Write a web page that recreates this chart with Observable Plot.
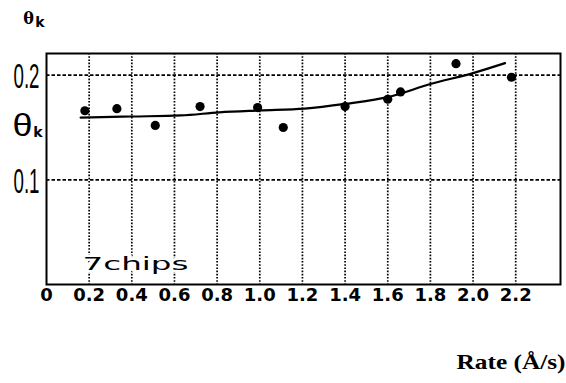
<!DOCTYPE html>
<html>
<head>
<meta charset="utf-8">
<script src="https://cdn.jsdelivr.net/npm/d3@7"></script>
<script src="https://cdn.jsdelivr.net/npm/@observablehq/plot@0.6"></script>
<style>
  html, body { margin: 0; padding: 0; background: #fff; }
  #chart svg { display: block; background: #fff; }
</style>
</head>
<body>
<div id="chart"></div>
<script>
// Measured θk against deposition rate
const rate  = [0.18, 0.33, 0.51, 0.72, 0.99, 1.11, 1.40, 1.60, 1.66, 1.92, 2.18];
const theta = [0.166, 0.168, 0.152, 0.170, 0.169, 0.150, 0.170, 0.177, 0.184, 0.211, 0.198];

// Smooth trend drawn through the measurements
const fitRate  = [0.16, 0.40, 0.63, 0.81, 1.00, 1.21, 1.40, 1.60, 1.80, 2.00, 2.15];
const fitTheta = [0.1595, 0.1605, 0.1615, 0.1645, 0.1663, 0.1680, 0.1725, 0.1790, 0.1915, 0.2020, 0.2115];

// Axis ticks
const xTicks = [0, 0.2, 0.4, 0.6, 0.8, 1.0, 1.2, 1.4, 1.6, 1.8, 2.0, 2.2];
const xGrid  = [0.2, 0.4, 0.6, 0.8, 1.0, 1.2, 1.4, 1.6, 1.8, 2.0, 2.2];
const yTicks = [0.1, 0.2];

const points = rate.map((r, i) => ({rate: r, theta: theta[i]}));
const fit = fitRate.map((r, i) => ({rate: r, theta: fitTheta[i]}));

const chart = Plot.plot({
  width: 566,
  height: 383,
  marginLeft: 46,
  marginRight: 6,
  marginTop: 53,
  marginBottom: 99,
  x: {domain: [0, 2.41], axis: null},
  y: {domain: [0, 0.2207], axis: null},
  style: {background: "#fff", color: "#000"},
  marks: [
    Plot.gridX(xGrid, {stroke: "#000", strokeOpacity: 1, strokeWidth: 1.7, strokeDasharray: "1.6,1.6"}),
    Plot.gridY(yTicks, {stroke: "#000", strokeOpacity: 1, strokeWidth: 1.7, strokeDasharray: "3.5,2"}),
    Plot.text(["7chips"], {
      frameAnchor: "bottom-left", dx: 36, dy: -15,
      textAnchor: "start", lineAnchor: "bottom",
      fontFamily: "DejaVu Sans", fontSize: 18, fill: "#000",
      stroke: "#fff", strokeWidth: 5, paintOrder: "stroke",
      ariaDescription: "chips-label"
    }),
    Plot.frame({stroke: "#000", strokeWidth: 2}),
    Plot.line(fit, {x: "rate", y: "theta", curve: "monotone-x", stroke: "#000", strokeWidth: 2.2}),
    Plot.dot(points, {x: "rate", y: "theta", r: 4.6, fill: "#000", stroke: "none"}),
    Plot.axisX(xTicks, {
      tickSize: 0, tickPadding: 4, label: null,
      tickFormat: d => d === 0 ? "0" : d.toFixed(1),
      fontFamily: "DejaVu Sans", fontSize: 18, fontWeight: "bold"
    }),
    // y tick labels in a tall condensed face
    Plot.text(yTicks, {
      y: d => d, text: d => d.toFixed(1),
      frameAnchor: "left", dx: -7, dy: 2, textAnchor: "end", lineAnchor: "middle",
      fontFamily: "Liberation Sans", fontSize: 35, fill: "#000",
      ariaDescription: "ytick"
    }),
    // side label θk
    Plot.text(["θ"], {
      frameAnchor: "top-left", dx: -24, dy: 73, textAnchor: "middle", lineAnchor: "middle",
      fontFamily: "Liberation Sans", fontSize: 31, fill: "#000", ariaDescription: "side-theta"
    }),
    Plot.text(["k"], {
      frameAnchor: "top-left", dx: -8.5, dy: 79.5, textAnchor: "middle", lineAnchor: "middle",
      fontFamily: "DejaVu Sans", fontSize: 14, fontWeight: "bold", fill: "#000"
    }),
    // top title θk
    Plot.text(["θ"], {
      frameAnchor: "top-left", dx: -18, dy: -35, textAnchor: "middle", lineAnchor: "middle",
      fontFamily: "DejaVu Serif", fontSize: 16, fontWeight: "bold", fill: "#000"
    }),
    Plot.text(["k"], {
      frameAnchor: "top-left", dx: -6.5, dy: -30.5, textAnchor: "middle", lineAnchor: "middle",
      fontFamily: "DejaVu Sans", fontSize: 14, fontWeight: "bold", fill: "#000"
    }),
    // x-axis title
    Plot.text(["Rate (Å/s)"], {
      frameAnchor: "bottom-right", dx: 5, dy: 84, textAnchor: "end", lineAnchor: "bottom",
      fontFamily: "Liberation Serif", fontSize: 22, fontWeight: "bold", fill: "#000",
      ariaDescription: "rate-label"
    })
  ]
});

// Stretch or condense a described text mark to a fixed width
function fitWidth(desc, width) {
  chart.querySelectorAll(`[aria-description="${desc}"] text`).forEach(t => {
    t.setAttribute("textLength", width);
    t.setAttribute("lengthAdjust", "spacingAndGlyphs");
  });
}
fitWidth("ytick", 26);
fitWidth("chips-label", 106);
fitWidth("side-theta", 20);
fitWidth("rate-label", 109);

document.getElementById("chart").appendChild(chart);
</script>
</body>
</html>
